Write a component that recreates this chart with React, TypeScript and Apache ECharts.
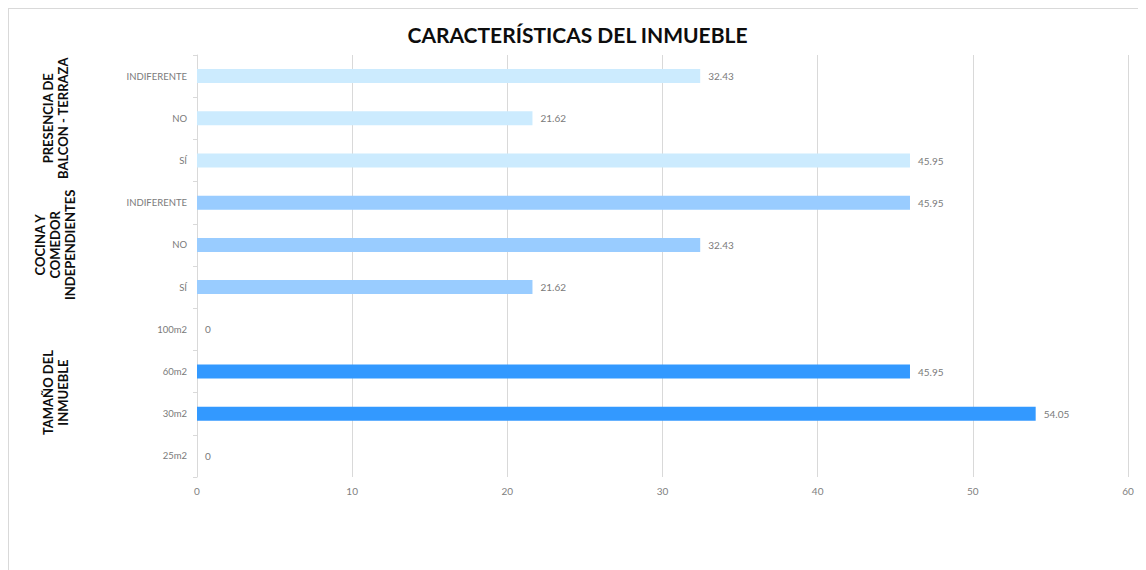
import React, { useEffect, useRef } from "react";
import * as echarts from "echarts";

// Categories listed bottom-to-top (as they appear on the axis from bottom)
const categories = ["25m2", "30m2", "60m2", "100m2", "SÍ", "NO", "INDIFERENTE", "SÍ", "NO", "INDIFERENTE"];
const values = [0, 54.05, 45.95, 0, 21.62, 32.43, 45.95, 45.95, 21.62, 32.43];
const groupNames = ["TAMAÑO DEL\nINMUEBLE", "COCINA Y\nCOMEDOR\nINDEPENDIENTES", "PRESENCIA DE\nBALCON - TERRAZA"];
const groupSizes = [4, 3, 3];
const groupColors = ["#3399FF", "#99CCFF", "#CCEBFE"];
const xTicks = [0, 10, 20, 30, 40, 50, 60];

const FONT = "Lato, 'Open Sans', sans-serif";

export default function App() {
  const ref = useRef<HTMLDivElement>(null);
  useEffect(() => {
    if (!ref.current) return;
    const chart = echarts.init(ref.current, undefined, { renderer: "svg" });

    const groupOf: number[] = [];
    const centers: number[] = [];
    let start = 0;
    groupSizes.forEach((n, g) => {
      for (let i = 0; i < n; i++) groupOf.push(g);
      centers.push(start + n / 2);
      start += n;
    });

    chart.setOption({
      animation: false,
      textStyle: { fontFamily: FONT },
      title: {
        text: "CARACTERÍSTICAS DEL INMUEBLE",
        left: "center",
        top: 10,
        textStyle: { fontFamily: FONT, fontSize: 21, fontWeight: "bold", color: "#0d0d0d" },
      },
      grid: { left: 188, right: 18, top: 46, bottom: 93, containLabel: false },
      xAxis: {
        type: "value",
        min: xTicks[0],
        max: xTicks[xTicks.length - 1],
        interval: 10,
        axisLine: { show: false },
        axisTick: { show: false },
        splitLine: { show: true, lineStyle: { color: "#d9d9d9", width: 1 } },
        axisLabel: { color: "#808080", fontSize: 10, margin: 9, fontFamily: FONT },
      },
      yAxis: [
        {
          type: "category",
          data: categories,
          axisLine: { show: true, lineStyle: { color: "#d9d9d9" } },
          axisTick: { show: true, length: 4, lineStyle: { color: "#d9d9d9" } },
          axisLabel: { color: "#7a7a7a", fontSize: 9.5, margin: 10, fontFamily: FONT },
        },
        {
          type: "value",
          position: "left",
          min: 0,
          max: categories.length,
          offset: 142,
          axisLine: { show: false },
          axisTick: { show: false },
          splitLine: { show: false },
          axisLabel: {
            show: true,
            margin: 0,
            rotate: 90,
            verticalAlign: "middle",
            customValues: centers,
            formatter: (v: number) => {
              const idx = centers.findIndex((c) => Math.abs(c - v) < 1e-6);
              return idx >= 0 ? groupNames[idx] : "";
            },
            fontSize: 13,
            fontWeight: "bold",
            lineHeight: 15,
            color: "#0d0d0d",
            fontFamily: FONT,
          },
        },
      ],
      series: [
        {
          type: "bar",
          yAxisIndex: 0,
          barWidth: 14,
          data: values.map((v, i) => ({ value: v, itemStyle: { color: groupColors[groupOf[i]] } })),
          label: {
            show: true,
            position: "right",
            distance: 8,
            color: "#7a7a7a",
            fontSize: 10,
            fontFamily: FONT,
          },
        },
      ],
    });
    return () => chart.dispose();
  }, []);

  return (
    <div style={{ width: 1137, height: 561, borderTop: "1px solid #d9d9d9", borderLeft: "1px solid #d9d9d9" }}>
      <div ref={ref} style={{ width: 1137, height: 561 }} />
    </div>
  );
}
